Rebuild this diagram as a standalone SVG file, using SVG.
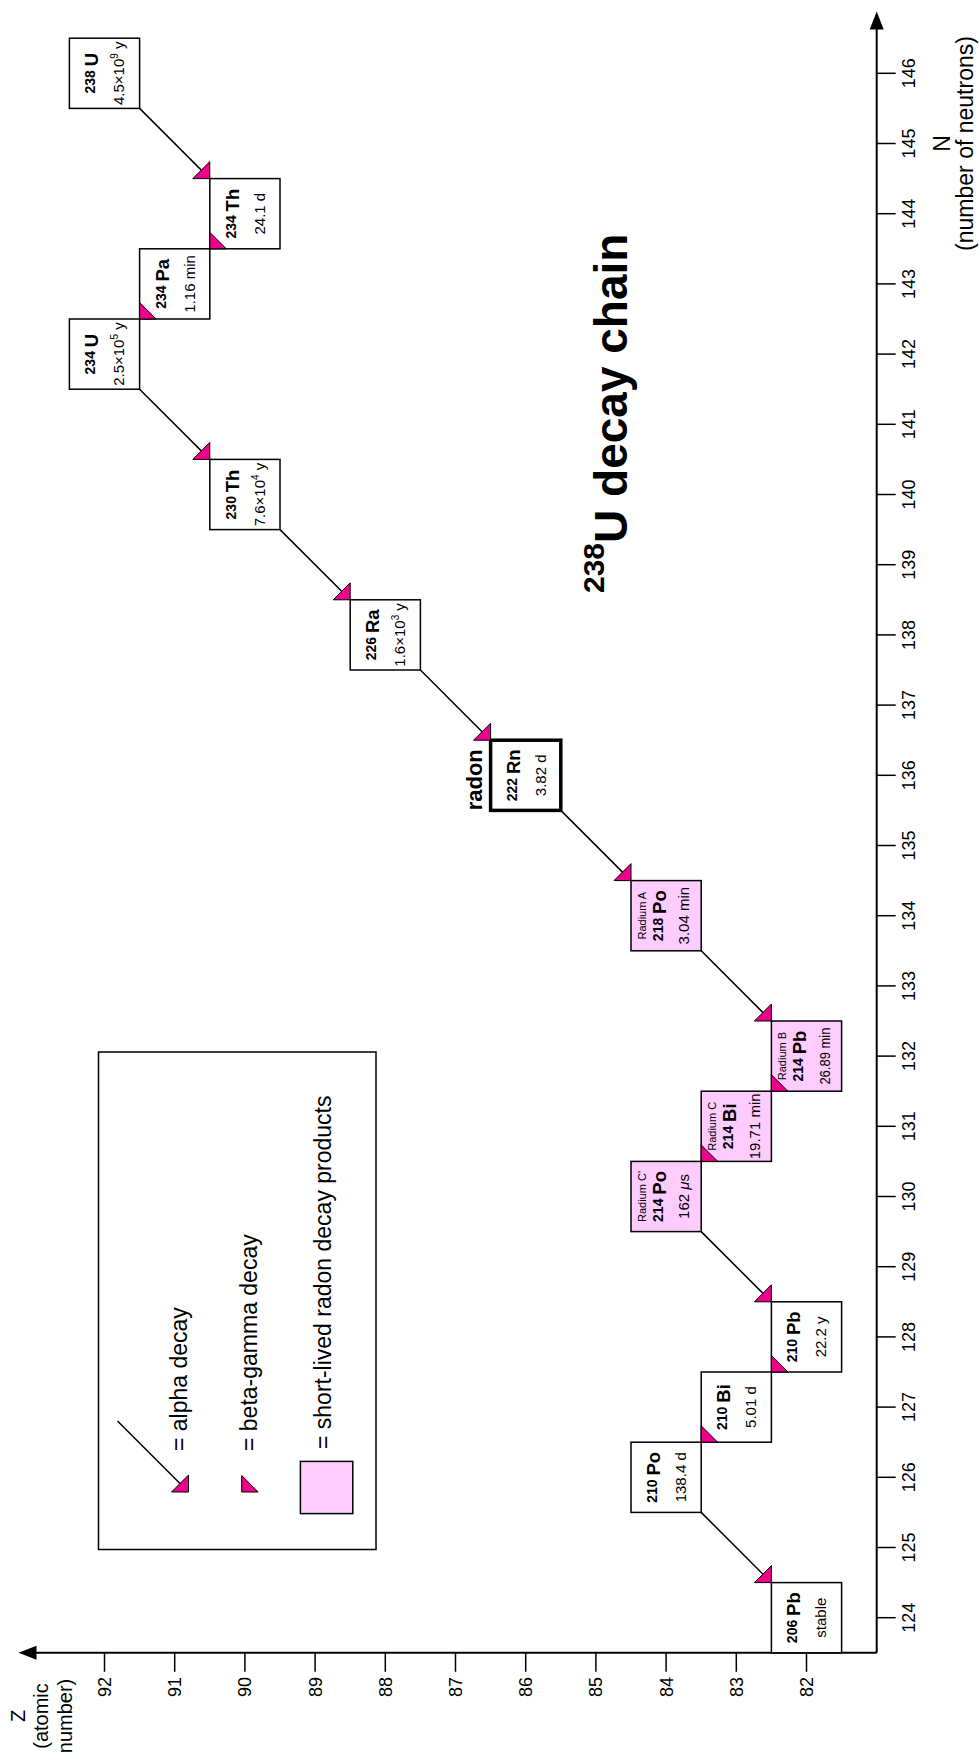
<svg xmlns="http://www.w3.org/2000/svg" width="979" height="1754" viewBox="0 0 979 1754" font-family="'Liberation Sans',Arial,Helvetica,sans-serif">
<style>
text{font-family:"Liberation Sans",Arial,Helvetica,sans-serif;fill:#000}
.box{fill:#fff;stroke:#000;stroke-width:1.5}
.pink{fill:#FFCCFF}
.thick{stroke-width:3.5}
.t{text-anchor:middle}
.mass{font-weight:bold;font-size:14px}
.sym{font-weight:bold;font-size:18.5px}
.hl{font-size:15px;text-anchor:middle}
.sup{font-size:10px}
.rad{font-size:11px;text-anchor:middle}
.tri{fill:#EC008C;stroke:#000;stroke-width:1;stroke-linejoin:miter}
.conn{stroke:#000;stroke-width:1.5;fill:none}
.axis{stroke:#000;stroke-width:2;fill:none}
.tk{stroke:#000;stroke-width:1.5}
.tl{font-size:18px}
.al{font-size:23px}
.zl{font-size:20px}
.lg{font-size:23px}
</style>

<g id="axes">
<line class="axis" x1="876.7" y1="1652.8" x2="876.7" y2="28"/>
<polygon points="876.7,11.5 869.7,29.5 883.7,29.5" fill="#000"/>
<line class="axis" x1="876.7" y1="1652.8" x2="35" y2="1652.8"/>
<polygon points="18.5,1652.8 36.5,1645.8 36.5,1659.8" fill="#000"/>
<g id="zticks">
<line class="tk" x1="104.5" y1="1652.8" x2="104.5" y2="1671.8"/>
<line class="tk" x1="174.7" y1="1652.8" x2="174.7" y2="1671.8"/>
<line class="tk" x1="244.9" y1="1652.8" x2="244.9" y2="1671.8"/>
<line class="tk" x1="315.1" y1="1652.8" x2="315.1" y2="1671.8"/>
<line class="tk" x1="385.3" y1="1652.8" x2="385.3" y2="1671.8"/>
<line class="tk" x1="455.5" y1="1652.8" x2="455.5" y2="1671.8"/>
<line class="tk" x1="525.7" y1="1652.8" x2="525.7" y2="1671.8"/>
<line class="tk" x1="595.9" y1="1652.8" x2="595.9" y2="1671.8"/>
<line class="tk" x1="666.1" y1="1652.8" x2="666.1" y2="1671.8"/>
<line class="tk" x1="736.3" y1="1652.8" x2="736.3" y2="1671.8"/>
<line class="tk" x1="806.5" y1="1652.8" x2="806.5" y2="1671.8"/>
</g>
<g id="zlabels" text-anchor="end">
<text class="tl" transform="translate(110.9,1677) rotate(-90)">92</text>
<text class="tl" transform="translate(181.1,1677) rotate(-90)">91</text>
<text class="tl" transform="translate(251.3,1677) rotate(-90)">90</text>
<text class="tl" transform="translate(321.5,1677) rotate(-90)">89</text>
<text class="tl" transform="translate(391.7,1677) rotate(-90)">88</text>
<text class="tl" transform="translate(461.9,1677) rotate(-90)">87</text>
<text class="tl" transform="translate(532.1,1677) rotate(-90)">86</text>
<text class="tl" transform="translate(602.3,1677) rotate(-90)">85</text>
<text class="tl" transform="translate(672.5,1677) rotate(-90)">84</text>
<text class="tl" transform="translate(742.7,1677) rotate(-90)">83</text>
<text class="tl" transform="translate(812.9,1677) rotate(-90)">82</text>
</g>
<g id="nticks">
<line class="tk" x1="876.7" y1="73.3" x2="895.7" y2="73.3"/>
<line class="tk" x1="876.7" y1="143.5" x2="895.7" y2="143.5"/>
<line class="tk" x1="876.7" y1="213.7" x2="895.7" y2="213.7"/>
<line class="tk" x1="876.7" y1="283.9" x2="895.7" y2="283.9"/>
<line class="tk" x1="876.7" y1="354.1" x2="895.7" y2="354.1"/>
<line class="tk" x1="876.7" y1="424.3" x2="895.7" y2="424.3"/>
<line class="tk" x1="876.7" y1="494.5" x2="895.7" y2="494.5"/>
<line class="tk" x1="876.7" y1="564.7" x2="895.7" y2="564.7"/>
<line class="tk" x1="876.7" y1="634.9" x2="895.7" y2="634.9"/>
<line class="tk" x1="876.7" y1="705.1" x2="895.7" y2="705.1"/>
<line class="tk" x1="876.7" y1="775.3" x2="895.7" y2="775.3"/>
<line class="tk" x1="876.7" y1="845.5" x2="895.7" y2="845.5"/>
<line class="tk" x1="876.7" y1="915.7" x2="895.7" y2="915.7"/>
<line class="tk" x1="876.7" y1="985.9" x2="895.7" y2="985.9"/>
<line class="tk" x1="876.7" y1="1056.1" x2="895.7" y2="1056.1"/>
<line class="tk" x1="876.7" y1="1126.3" x2="895.7" y2="1126.3"/>
<line class="tk" x1="876.7" y1="1196.5" x2="895.7" y2="1196.5"/>
<line class="tk" x1="876.7" y1="1266.7" x2="895.7" y2="1266.7"/>
<line class="tk" x1="876.7" y1="1336.9" x2="895.7" y2="1336.9"/>
<line class="tk" x1="876.7" y1="1407.1" x2="895.7" y2="1407.1"/>
<line class="tk" x1="876.7" y1="1477.3" x2="895.7" y2="1477.3"/>
<line class="tk" x1="876.7" y1="1547.5" x2="895.7" y2="1547.5"/>
<line class="tk" x1="876.7" y1="1617.7" x2="895.7" y2="1617.7"/>
</g>
<g id="nlabels" text-anchor="middle">
<text class="tl" transform="translate(915,73.3) rotate(-90)">146</text>
<text class="tl" transform="translate(915,143.5) rotate(-90)">145</text>
<text class="tl" transform="translate(915,213.7) rotate(-90)">144</text>
<text class="tl" transform="translate(915,283.9) rotate(-90)">143</text>
<text class="tl" transform="translate(915,354.1) rotate(-90)">142</text>
<text class="tl" transform="translate(915,424.3) rotate(-90)">141</text>
<text class="tl" transform="translate(915,494.5) rotate(-90)">140</text>
<text class="tl" transform="translate(915,564.7) rotate(-90)">139</text>
<text class="tl" transform="translate(915,634.9) rotate(-90)">138</text>
<text class="tl" transform="translate(915,705.1) rotate(-90)">137</text>
<text class="tl" transform="translate(915,775.3) rotate(-90)">136</text>
<text class="tl" transform="translate(915,845.5) rotate(-90)">135</text>
<text class="tl" transform="translate(915,915.7) rotate(-90)">134</text>
<text class="tl" transform="translate(915,985.9) rotate(-90)">133</text>
<text class="tl" transform="translate(915,1056.1) rotate(-90)">132</text>
<text class="tl" transform="translate(915,1126.3) rotate(-90)">131</text>
<text class="tl" transform="translate(915,1196.5) rotate(-90)">130</text>
<text class="tl" transform="translate(915,1266.7) rotate(-90)">129</text>
<text class="tl" transform="translate(915,1336.9) rotate(-90)">128</text>
<text class="tl" transform="translate(915,1407.1) rotate(-90)">127</text>
<text class="tl" transform="translate(915,1477.3) rotate(-90)">126</text>
<text class="tl" transform="translate(915,1547.5) rotate(-90)">125</text>
<text class="tl" transform="translate(915,1617.7) rotate(-90)">124</text>
</g>
<g id="nAxisLabel" transform="translate(0,143.5) rotate(-90)" text-anchor="middle">
<text class="al" x="0" y="950">N</text>
<text class="al" x="0" y="973">(number of neutrons)</text>
</g>
<g id="zAxisLabel" transform="translate(0,1716) rotate(-90)" text-anchor="middle">
<text class="zl" x="0" y="24.5">Z</text>
<text class="zl" x="0" y="48">(atomic</text>
<text class="zl" x="0" y="71.5">number)</text>
</g>
</g>

<g id="title" transform="translate(627,593) rotate(-90)">
<text font-weight="bold"><tspan font-size="30" dy="-23">238</tspan><tspan font-size="46" dy="23">U decay chain</tspan></text>
</g>

<g id="nodes">
<g id="n238U" transform="translate(104.5,73.3)"><rect class="box" x="-35.1" y="-35.1" width="70.2" height="70.2"/><g transform="rotate(-90)"><text class="t" y="-6.1"><tspan class="mass" dy="-3">238 </tspan><tspan class="sym" dy="3">U</tspan></text><text class="hl" y="19.9">4.5×10<tspan class="sup" dy="-6">9</tspan><tspan dy="6"> y</tspan></text></g></g>
<g id="n234Th" transform="translate(244.9,213.7)"><rect class="box" x="-35.1" y="-35.1" width="70.2" height="70.2"/><g transform="rotate(-90)"><text class="t" y="-6.1"><tspan class="mass" dy="-3">234 </tspan><tspan class="sym" dy="3">Th</tspan></text><text class="hl" y="19.9">24.1 d</text></g></g>
<g id="n234Pa" transform="translate(174.7,283.9)"><rect class="box" x="-35.1" y="-35.1" width="70.2" height="70.2"/><g transform="rotate(-90)"><text class="t" y="-6.1"><tspan class="mass" dy="-3">234 </tspan><tspan class="sym" dy="3">Pa</tspan></text><text class="hl" y="19.9">1.16 min</text></g></g>
<g id="n234U" transform="translate(104.5,354.1)"><rect class="box" x="-35.1" y="-35.1" width="70.2" height="70.2"/><g transform="rotate(-90)"><text class="t" y="-6.1"><tspan class="mass" dy="-3">234 </tspan><tspan class="sym" dy="3">U</tspan></text><text class="hl" y="19.9">2.5×10<tspan class="sup" dy="-6">5</tspan><tspan dy="6"> y</tspan></text></g></g>
<g id="n230Th" transform="translate(244.9,494.5)"><rect class="box" x="-35.1" y="-35.1" width="70.2" height="70.2"/><g transform="rotate(-90)"><text class="t" y="-6.1"><tspan class="mass" dy="-3">230 </tspan><tspan class="sym" dy="3">Th</tspan></text><text class="hl" y="19.9">7.6×10<tspan class="sup" dy="-6">4</tspan><tspan dy="6"> y</tspan></text></g></g>
<g id="n226Ra" transform="translate(385.3,634.9)"><rect class="box" x="-35.1" y="-35.1" width="70.2" height="70.2"/><g transform="rotate(-90)"><text class="t" y="-6.1"><tspan class="mass" dy="-3">226 </tspan><tspan class="sym" dy="3">Ra</tspan></text><text class="hl" y="19.9">1.6×10<tspan class="sup" dy="-6">3</tspan><tspan dy="6"> y</tspan></text></g></g>
<g id="n222Rn" transform="translate(525.7,775.3)"><rect class="box thick" x="-35.1" y="-35.1" width="70.2" height="70.2"/><g transform="rotate(-90)"><text class="t" y="-6.1"><tspan class="mass" dy="-3">222 </tspan><tspan class="sym" dy="3">Rn</tspan></text><text class="hl" y="19.9">3.82 d</text><text x="-35" y="-44" font-weight="bold" font-size="22">radon</text></g></g>
<g id="n218Po" transform="translate(666.1,915.7)"><rect class="box pink" x="-35.1" y="-35.1" width="70.2" height="70.2"/><g transform="rotate(-90)"><text class="rad" y="-20.6">Radium A</text><text class="t" y="-0.6"><tspan class="mass" dy="-3">218 </tspan><tspan class="sym" dy="3">Po</tspan></text><text class="hl" y="23.4">3.04 min</text></g></g>
<g id="n214Pb" transform="translate(806.5,1056.1)"><rect class="box pink" x="-35.1" y="-35.1" width="70.2" height="70.2"/><g transform="rotate(-90)"><text class="rad" y="-20.6">Radium B</text><text class="t" y="-0.6"><tspan class="mass" dy="-3">214 </tspan><tspan class="sym" dy="3">Pb</tspan></text><text class="hl" y="23.4" textLength="57" lengthAdjust="spacingAndGlyphs">26.89 min</text></g></g>
<g id="n214Bi" transform="translate(736.3,1126.3)"><rect class="box pink" x="-35.1" y="-35.1" width="70.2" height="70.2"/><g transform="rotate(-90)"><text class="rad" y="-20.6">Radium C</text><text class="t" y="-0.6"><tspan class="mass" dy="-3">214 </tspan><tspan class="sym" dy="3">Bi</tspan></text><text class="hl" y="23.4">19.71 min</text></g></g>
<g id="n214Po" transform="translate(666.1,1196.5)"><rect class="box pink" x="-35.1" y="-35.1" width="70.2" height="70.2"/><g transform="rotate(-90)"><text class="rad" y="-20.6">Radium C'</text><text class="t" y="-0.6"><tspan class="mass" dy="-3">214 </tspan><tspan class="sym" dy="3">Po</tspan></text><text class="hl" y="23.4">162 <tspan font-style="italic">μ</tspan>s</text></g></g>
<g id="n210Pb" transform="translate(806.5,1336.9)"><rect class="box" x="-35.1" y="-35.1" width="70.2" height="70.2"/><g transform="rotate(-90)"><text class="t" y="-6.1"><tspan class="mass" dy="-3">210 </tspan><tspan class="sym" dy="3">Pb</tspan></text><text class="hl" y="19.9">22.2 y</text></g></g>
<g id="n210Bi" transform="translate(736.3,1407.1)"><rect class="box" x="-35.1" y="-35.1" width="70.2" height="70.2"/><g transform="rotate(-90)"><text class="t" y="-6.1"><tspan class="mass" dy="-3">210 </tspan><tspan class="sym" dy="3">Bi</tspan></text><text class="hl" y="19.9">5.01 d</text></g></g>
<g id="n210Po" transform="translate(666.1,1477.3)"><rect class="box" x="-35.1" y="-35.1" width="70.2" height="70.2"/><g transform="rotate(-90)"><text class="t" y="-6.1"><tspan class="mass" dy="-3">210 </tspan><tspan class="sym" dy="3">Po</tspan></text><text class="hl" y="19.9">138.4 d</text></g></g>
<g id="n206Pb" transform="translate(806.5,1617.7)"><rect class="box" x="-35.1" y="-35.1" width="70.2" height="70.2"/><g transform="rotate(-90)"><text class="t" y="-6.1"><tspan class="mass" dy="-3">206 </tspan><tspan class="sym" dy="3">Pb</tspan></text><text class="hl" y="19.9">stable</text></g></g>
</g>

<g id="connectors">
<g id="alpha">
<line class="conn" x1="139.6" y1="108.4" x2="209.8" y2="178.6"/>
<line class="conn" x1="139.6" y1="389.2" x2="209.8" y2="459.4"/>
<line class="conn" x1="280" y1="529.6" x2="350.2" y2="599.8"/>
<line class="conn" x1="420.4" y1="670" x2="490.6" y2="740.2"/>
<line class="conn" x1="560.8" y1="810.4" x2="631" y2="880.6"/>
<line class="conn" x1="701.2" y1="950.8" x2="771.4" y2="1021"/>
<line class="conn" x1="701.2" y1="1231.6" x2="771.4" y2="1301.8"/>
<line class="conn" x1="701.2" y1="1512.4" x2="771.4" y2="1582.6"/>
<polygon class="tri" points="192.8,178.6 209.8,178.6 209.8,161.6"/>
<polygon class="tri" points="192.8,459.4 209.8,459.4 209.8,442.4"/>
<polygon class="tri" points="333.2,599.8 350.2,599.8 350.2,582.8"/>
<polygon class="tri" points="473.6,740.2 490.6,740.2 490.6,723.2"/>
<polygon class="tri" points="614,880.6 631,880.6 631,863.6"/>
<polygon class="tri" points="754.4,1021 771.4,1021 771.4,1004"/>
<polygon class="tri" points="754.4,1301.8 771.4,1301.8 771.4,1284.8"/>
<polygon class="tri" points="754.4,1582.6 771.4,1582.6 771.4,1565.6"/>
</g>
<g id="beta">
<polygon class="tri" points="209.8,232.3 209.8,248.8 226.3,248.8"/>
<polygon class="tri" points="139.6,302.5 139.6,319 156.1,319"/>
<polygon class="tri" points="771.4,1074.7 771.4,1091.2 787.9,1091.2"/>
<polygon class="tri" points="701.2,1144.9 701.2,1161.4 717.7,1161.4"/>
<polygon class="tri" points="771.4,1355.5 771.4,1372 787.9,1372"/>
<polygon class="tri" points="701.2,1425.7 701.2,1442.2 717.7,1442.2"/>
</g>
</g>

<g id="legend">
<rect x="98.5" y="1052" width="277.5" height="497.5" fill="#fff" stroke="#000" stroke-width="1.5"/>
<line class="conn" x1="117.5" y1="1421" x2="188.5" y2="1492"/>
<polygon class="tri" points="171.5,1492 188.5,1492 188.5,1475"/>
<text class="lg" transform="translate(187,1451) rotate(-90)">= alpha decay</text>
<polygon class="tri" points="241.7,1475.5 241.7,1492 258.2,1492"/>
<text class="lg" transform="translate(256.5,1451) rotate(-90)">= beta-gamma decay</text>
<rect x="300.4" y="1461.4" width="52.4" height="52.2" fill="#FFCCFF" stroke="#000" stroke-width="1.5"/>
<text class="lg" transform="translate(331,1449) rotate(-90)">= short-lived radon decay products</text>
</g>
</svg>
